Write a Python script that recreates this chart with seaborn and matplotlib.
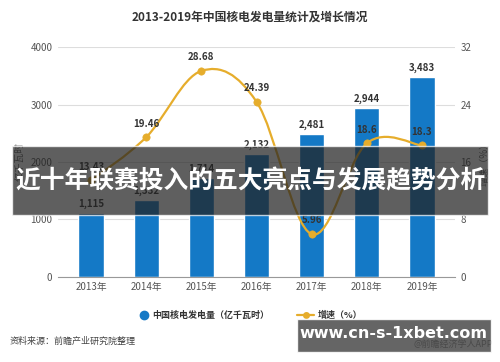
import numpy as np
import pandas as pd
import matplotlib
matplotlib.use("Agg")
import matplotlib.pyplot as plt
import seaborn as sns
from matplotlib.path import Path
from matplotlib.patches import PathPatch, Rectangle

# data
years = ["2013年", "2014年", "2015年", "2016年", "2017年", "2018年", "2019年"]
output = [1115, 1332, 1714, 2132, 2481, 2944, 3483]
output_labels = ["1,115", "1,332", "1,714", "2,132", "2,481", "2,944", "3,483"]
growth = [13.43, 19.46, 28.68, 24.39, 5.96, 18.6, 18.3]
growth_labels = ["13.43", "19.46", "28.68", "24.39", "5.96", "18.6", "18.3"]

df = pd.DataFrame({"year": years, "output": output, "growth": growth})

sns.set_theme(style="white")
plt.rcParams['font.family'] = ['Noto Sans CJK SC', 'DejaVu Sans']

fig = plt.figure(figsize=(5, 3.62), dpi=100)
ax = fig.add_axes([0.116, 0.235, 0.794, 0.635])

bar_c = "#1479c6"
line_c = "#e6ad2c"

sns.barplot(data=df, x="year", y="output", color=bar_c, width=0.46,
            saturation=1, ax=ax, zorder=2)
ax.set_ylim(0, 4000)
ax.set_yticks([0, 1000, 2000, 3000, 4000])
ax.set_xlim(-0.6, 6.6)
ax.yaxis.grid(True, color="#dddddd", lw=0.8, zorder=0)
for s in ["top", "right", "left"]:
    ax.spines[s].set_visible(False)
ax.spines["bottom"].set_color("#999999")
ax.spines["bottom"].set_linewidth(0.8)
ax.tick_params(axis="both", labelsize=7, colors="#555555", length=0, pad=4)
ax.set_xlabel("")
ax.set_ylabel("亿千瓦时", fontsize=7, color="#666666", labelpad=4)
for i, v in enumerate(output):
    ax.text(i, v + 70, output_labels[i], ha="center", va="bottom",
            fontsize=7, fontweight="bold", color="#333333", zorder=5)

ax2 = ax.twinx()
ax2.set_ylim(0, 32)
ax2.set_yticks([0, 8, 16, 24, 32])
for s in ax2.spines.values():
    s.set_visible(False)
ax2.tick_params(axis="y", labelsize=7, colors="#555555", length=0, pad=4)
ax2.set_ylabel("增速（%）", fontsize=7, color="#666666", labelpad=6)

# smooth curve through the growth points (cardinal spline as bezier)
xs = np.arange(len(growth), dtype=float)
ys = np.array(growth, dtype=float)
verts = [(xs[0], ys[0])]
codes = [Path.MOVETO]
t = 0.35
for i in range(len(xs) - 1):
    p0 = (xs[max(i - 1, 0)], ys[max(i - 1, 0)])
    p1 = (xs[i], ys[i])
    p2 = (xs[i + 1], ys[i + 1])
    p3 = (xs[min(i + 2, len(xs) - 1)], ys[min(i + 2, len(xs) - 1)])
    c1 = (p1[0] + t * (p2[0] - p0[0]) / 2, p1[1] + t * (p2[1] - p0[1]) / 2)
    c2 = (p2[0] - t * (p3[0] - p1[0]) / 2, p2[1] - t * (p3[1] - p1[1]) / 2)
    verts += [c1, c2, p2]
    codes += [Path.CURVE4] * 3
ax2.add_patch(PathPatch(Path(verts, codes), fill=False, color=line_c, lw=1.6, zorder=3))
sns.scatterplot(x=xs, y=ys, color=line_c, s=28, edgecolor=line_c, ax=ax2, zorder=4)
for i, v in enumerate(growth):
    ax2.text(i, v + 1.2, growth_labels[i], ha="center", va="bottom",
             fontsize=7, fontweight="bold", color="#333333", zorder=5)

fig.text(0.5, 0.953, "2013-2019年中国核电发电量统计及增长情况", ha="center", va="center",
         fontsize=8.5, fontweight="bold", color="#333333")

# legend
fig.lines.append(plt.Line2D([0.288], [0.13], marker="o", color=bar_c, ms=6,
                            transform=fig.transFigure))
fig.text(0.305, 0.13, "中国核电发电量（亿千瓦时）", fontsize=6.5, color="#333333",
         va="center", ha="left", fontweight="bold")
fig.lines.append(plt.Line2D([0.594, 0.628], [0.13, 0.13], color=line_c,
                            lw=1.6, transform=fig.transFigure))
fig.lines.append(plt.Line2D([0.611], [0.13], marker="o", color=line_c, ms=4,
                            transform=fig.transFigure))
fig.text(0.636, 0.13, "增速（%）", fontsize=6.5, color="#333333", va="center",
         ha="left", fontweight="bold")

fig.text(0.02, 0.058, "资料来源：前瞻产业研究院整理", fontsize=6.5, color="#444444",
         va="center", ha="left")
fig.text(0.985, 0.048, "@前瞻经济学人APP", fontsize=6.5, color="#444444",
         va="center", ha="right")

# overlay banner
fig.patches.append(Rectangle((0.024, 0.406), 0.952, 0.19, transform=fig.transFigure,
                             facecolor="#222222", alpha=0.72, zorder=10))
fig.text(0.5, 0.5, "近十年联赛投入的五大亮点与发展趋势分析", ha="center", va="center",
         fontsize=17.8, fontweight="bold", color="white", zorder=11)

fig.patches.append(Rectangle((0.594, 0.028), 0.388, 0.091, transform=fig.transFigure,
                             facecolor="#4a4a4a", alpha=0.85, zorder=10))
fig.text(0.786, 0.08, "www.cn-s-1xbet.com", ha="center", va="center",
         fontsize=11.5, fontweight="bold", color="white", zorder=11, family="DejaVu Sans")

fig.savefig("out.png", dpi=100)
